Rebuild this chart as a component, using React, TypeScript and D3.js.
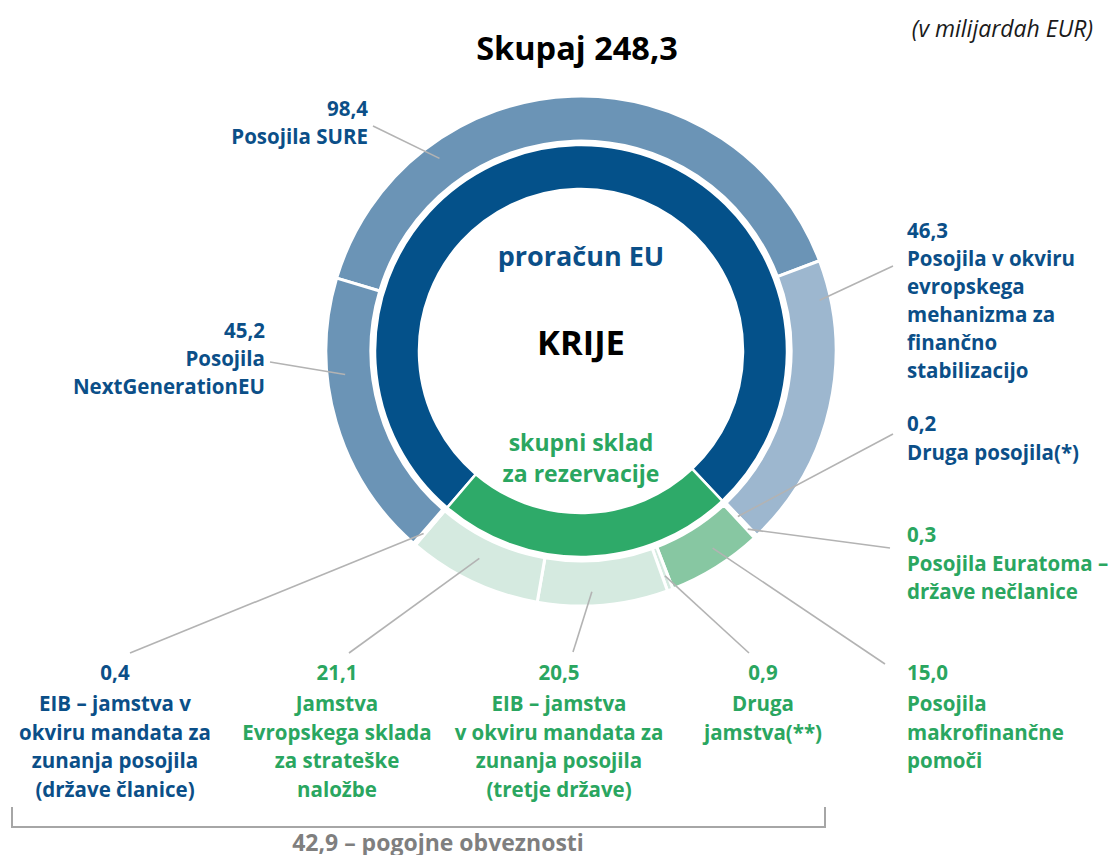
import React from 'react';
import * as d3 from 'd3';

// outer ring, clockwise starting with the SURE loans
const segmentValues = [98.4, 46.3, 0.2, 0.3, 15.0, 0.9, 20.5, 21.1, 0.4, 45.2];
const segmentColors = ['#6b94b6', '#9db7cf', '#9db7cf', '#87c7a2', '#87c7a2', '#d5eae0', '#d5eae0', '#d5eae0', '#6b94b6', '#6b94b6'];
const segmentCover = ['budget', 'budget', 'budget', 'fund', 'fund', 'fund', 'fund', 'fund', 'budget', 'budget'];
const segmentContingent = [false, false, false, false, false, true, true, true, true, false];
const segmentLabels = [
    ['Posojila SURE'],
    ['Posojila v okviru', 'evropskega', 'mehanizma za', 'finančno', 'stabilizacijo'],
    ['Druga posojila(*)'],
    ['Posojila Euratoma –', 'države nečlanice'],
    ['Posojila', 'makrofinančne', 'pomoči'],
    ['Druga', 'jamstva(**)'],
    ['EIB – jamstva', 'v okviru mandata za', 'zunanja posojila', '(tretje države)'],
    ['Jamstva', 'Evropskega sklada', 'za strateške', 'naložbe'],
    ['EIB – jamstva v', 'okviru mandata za', 'zunanja posojila', '(države članice)'],
    ['Posojila', 'NextGenerationEU'],
];

// inner ring: who covers what
const coverKeys = ['budget', 'fund'];
const coverColors = ['#04518a', '#2eaa69'];
const coverTextColors = ['#0b4f88', '#2aa660'];

const slLocale = d3.formatLocale({ decimal: ',', thousands: '.', grouping: [3], currency: ['', ' EUR'] });
const fmt = slLocale.format('.1f');

// label placement (value line y, anchor, leader start, where the leader meets the ring)
const labelLayout: any[] = [
    { x: 368, y: 108, anchor: 'end', lx: 373, ly: 126, t: 0.26, r: 239, gap: 27.5, lh: 28 },
    { x: 907, y: 230, anchor: 'start', lx: 893, ly: 266, t: 0.13, r: 244, gap: 27.5, lh: 28 },
    { x: 907, y: 423, anchor: 'start', lx: 893, ly: 434, t: 0.5, r: 228, gap: 28.5, lh: 28 },
    { x: 907, y: 534, anchor: 'start', lx: 890, ly: 548, t: 0.5, r: 244, gap: 28.5, lh: 28 },
    { x: 907, y: 672, anchor: 'start', lx: 885, ly: 664, t: 0.42, r: 237, gap: 31, lh: 28.5 },
    { x: 763, y: 672, anchor: 'middle', lx: 749, ly: 653, t: 0.5, r: 240, gap: 31, lh: 28.5 },
    { x: 559, y: 672, anchor: 'middle', lx: 573, ly: 652, t: 0.58, r: 241, gap: 31, lh: 28.5 },
    { x: 337, y: 672, anchor: 'middle', lx: 349, ly: 653, t: 0.53, r: 231, gap: 31, lh: 28.5 },
    { x: 115, y: 672, anchor: 'middle', lx: 130, ly: 653, t: 0.5, r: 241, gap: 31, lh: 28.5 },
    { x: 265, y: 330, anchor: 'end', lx: 270, ly: 362, t: 0.66, r: 237, gap: 27.5, lh: 28 },
];

const cx = 581;
const cy = 351;
const FONT = '"Open Sans", "Noto Sans", sans-serif';

export default function App() {
    const start = (-73.4 * Math.PI) / 180;
    const pie = d3.pie<number>().sort(null).value(d => d)
        .startAngle(start).endAngle(start + 2 * Math.PI);
    const arcs = pie(segmentValues);

    const outerArc = d3.arc<any>().innerRadius(210).outerRadius(255);
    const innerArc = d3.arc<any>().innerRadius(162).outerRadius(206);

    //merge consecutive outer arcs with the same cover into inner arcs
    let groups: any[] = [];
    arcs.forEach((a, i) => {
        const last = groups[groups.length - 1];
        if (last && last.key === segmentCover[i]) {
            last.endAngle = a.endAngle;
        } else {
            groups.push({ key: segmentCover[i], startAngle: a.startAngle, endAngle: a.endAngle });
        }
    });
    if (groups.length > 1 && groups[0].key === groups[groups.length - 1].key) {
        const last = groups.pop();
        groups[0].startAngle = last.startAngle - 2 * Math.PI;
    }

    const total = d3.sum(segmentValues);
    const contingentTotal = d3.sum(segmentValues.filter((v, i) => segmentContingent[i]));

    return (
        <svg width={1111} height={855} style={{ position: 'absolute', left: 0, top: 0 }} fontFamily={FONT}>
            <text x={1093} y={28} textAnchor='end' dominantBaseline='central' fontSize={23}
                fontStyle='italic' fill='#1a1a1a'>(v milijardah EUR)</text>
            <text x={577} y={47} textAnchor='middle' dominantBaseline='central' fontSize={32.5}
                fontWeight={700} fill='#000'>{`Skupaj ${fmt(total)}`}</text>

            <g transform={`translate(${cx}, ${cy})`}>
                {groups.map((g, i) => (
                    <path key={'in' + i} d={innerArc(g) as string}
                        fill={coverColors[coverKeys.indexOf(g.key)]} stroke='#fff' strokeWidth={2.5} />
                ))}
                {arcs.map((a, i) => (
                    <path key={'out' + i} d={outerArc(a) as string}
                        fill={segmentColors[i]} stroke='#fff' strokeWidth={3} />
                ))}
                <text y={-96} textAnchor='middle' dominantBaseline='central' fontSize={27}
                    fontWeight={700} fill={coverTextColors[0]}>proračun EU</text>
                <text y={-10} textAnchor='middle' dominantBaseline='central' fontSize={34.5}
                    fontWeight={700} fill='#000'>KRIJE</text>
                <text y={91} textAnchor='middle' dominantBaseline='central' fontSize={23}
                    fontWeight={700} fill={coverTextColors[1]}>skupni sklad</text>
                <text y={122} textAnchor='middle' dominantBaseline='central' fontSize={23}
                    fontWeight={700} fill={coverTextColors[1]}>za rezervacije</text>
            </g>

            {/* leader lines */}
            {arcs.map((a, i) => {
                const L = labelLayout[i];
                const ang = a.startAngle + (a.endAngle - a.startAngle) * L.t;
                const ex = cx + L.r * Math.sin(ang);
                const ey = cy - L.r * Math.cos(ang);
                return <line key={'ld' + i} x1={L.lx} y1={L.ly} x2={ex} y2={ey} stroke='#b3b3b3' strokeWidth={1.6} />;
            })}

            {/* labels */}
            {arcs.map((a, i) => {
                const L = labelLayout[i];
                const col = coverTextColors[coverKeys.indexOf(segmentCover[i])];
                return (
                    <g key={'lb' + i} fill={col} fontWeight={700} fontSize={20.5} textAnchor={L.anchor}>
                        <text x={L.x} y={L.y} dominantBaseline='central'>{fmt(segmentValues[i])}</text>
                        {segmentLabels[i].map((line, j) => (
                            <text key={j} x={L.x} y={L.y + L.gap + j * L.lh} dominantBaseline='central'>{line}</text>
                        ))}
                    </g>
                );
            })}

            {/* contingent liabilities bracket */}
            <path d='M12,807 V827 H825 V807' fill='none' stroke='#a6a6a6' strokeWidth={2} />
            <text x={438} y={842} textAnchor='middle' dominantBaseline='central' fontSize={23}
                fontWeight={700} fill='#7f7f7f'>{`${fmt(contingentTotal)} – pogojne obveznosti`}</text>
        </svg>
    );
}
